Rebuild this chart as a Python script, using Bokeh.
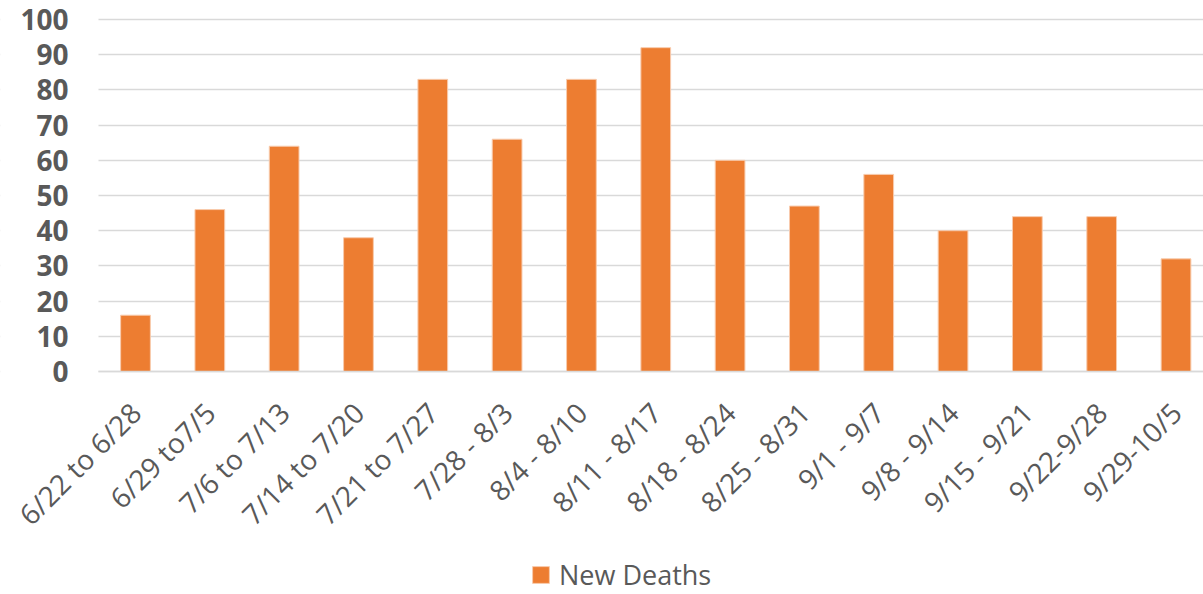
import numpy as np
from bokeh.plotting import figure
from bokeh.models import (Range1d, FixedTicker, Legend, LegendItem, ColumnDataSource,
                          BoxAnnotation)
from bokeh.embed import file_html
from bokeh.resources import INLINE

weeks = ["6/22 to 6/28", "6/29 to7/5", "7/6 to 7/13", "7/14 to 7/20", "7/21 to 7/27",
         "7/28 - 8/3", "8/4 - 8/10", "8/11 - 8/17", "8/18 - 8/24", "8/25 - 8/31",
         "9/1 - 9/7", "9/8 - 9/14", "9/15 - 9/21", "9/22-9/28", "9/29-10/5"]
new_deaths = [16, 46, 64, 38, 83, 66, 83, 92, 60, 47, 56, 40, 44, 44, 32]
y_ticks = [0, 10, 20, 30, 40, 50, 60, 70, 80, 90, 100]

positions = list(range(1, len(weeks) + 1))
source = ColumnDataSource(dict(x=positions, y=new_deaths, week=weeks))

TEXT = "#595959"
GRID = "#d9d9d9"
ORANGE = "#ED7D31"

X_START, X_END = -0.8165, 15.37      # whole canvas is the frame
PLOT_LEFT = 0.502                   # where the value axis sits
Y_START, Y_END = -63.35, 105.4

p = figure(width=1203, height=594, output_backend="svg", toolbar_location=None,
           x_range=Range1d(X_START, X_END), y_range=Range1d(Y_START, Y_END),
           min_border_left=0, min_border_top=0, min_border_right=0, min_border_bottom=0)
p.outline_line_color = None

r = p.vbar(x="x", top="y", width=0.4, source=source, fill_color=ORANGE,
           line_color="#F8CBAD", line_width=1)

# grid lines only over the plotting area
p.xgrid.grid_line_color = None
p.ygrid.ticker = FixedTicker(ticks=y_ticks)
p.ygrid.grid_line_color = GRID
p.ygrid.grid_line_width = 1.5
p.add_layout(BoxAnnotation(right=PLOT_LEFT, fill_color="white", fill_alpha=1.0,
                           line_color=None, level="underlay"))

# y axis
p.yaxis.fixed_location = PLOT_LEFT
p.yaxis.ticker = FixedTicker(ticks=y_ticks)
p.yaxis.axis_line_color = None
p.yaxis.major_tick_line_color = None
p.yaxis.minor_tick_line_color = None
p.yaxis.major_label_text_font = "Open Sans"
p.yaxis.major_label_text_font_style = "bold"
p.yaxis.major_label_text_font_size = "28px"
p.yaxis.major_label_text_color = TEXT
p.yaxis.major_label_standoff = 30
p.yaxis.major_tick_out = 0
p.yaxis.major_tick_in = 0

# x axis
p.xaxis.fixed_location = 0
p.xaxis.bounds = (PLOT_LEFT, X_END)
p.xaxis.ticker = FixedTicker(ticks=positions)
p.xaxis.major_label_overrides = {pos: w for pos, w in zip(positions, weeks)}
p.xaxis.major_label_orientation = np.pi / 4
p.xaxis.axis_line_color = GRID
p.xaxis.axis_line_width = 1.5
p.xaxis.major_tick_line_color = None
p.xaxis.minor_tick_line_color = None
p.xaxis.major_tick_out = 0
p.xaxis.major_tick_in = 0
p.xaxis.major_label_text_font = "Open Sans"
p.xaxis.major_label_text_font_size = "28px"
p.xaxis.major_label_text_color = TEXT
p.xaxis.major_label_standoff = 36

legend = Legend(items=[LegendItem(label="New Deaths", renderers=[r])],
                location=(530, 1), orientation="horizontal",
                label_text_font="Open Sans", label_text_font_size="27px",
                label_text_color=TEXT, glyph_width=21, glyph_height=21,
                label_standoff=8, border_line_color=None, padding=0, margin=0,
                background_fill_alpha=0)
p.add_layout(legend, "center")

open("out.html", "w").write(file_html(p, INLINE))
